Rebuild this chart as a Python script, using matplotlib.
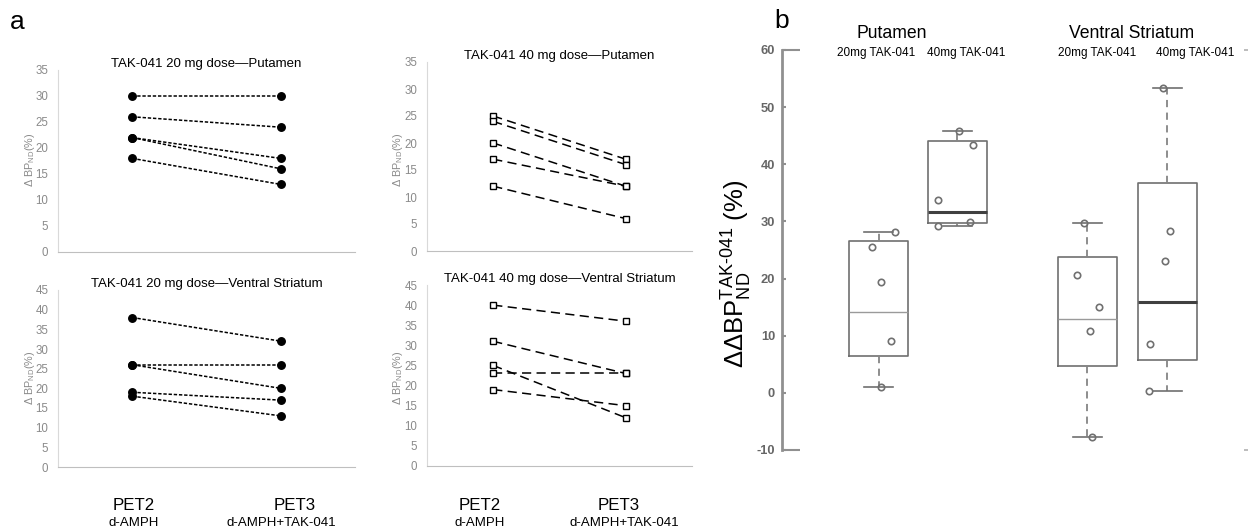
import numpy as np
import matplotlib
matplotlib.use('Agg')
import matplotlib.pyplot as plt

plt.rcParams['font.family'] = 'Liberation Sans'
plt.rcParams['mathtext.fontset'] = 'custom'
plt.rcParams['mathtext.rm'] = 'Liberation Sans'
plt.rcParams['mathtext.it'] = 'Liberation Sans:italic'
plt.rcParams['mathtext.bf'] = 'Liberation Sans:bold'
plt.rcParams['axes.unicode_minus'] = False

W = 1250
H = 528

# panel a: delta BPnd (%) at PET2 and PET3, one line per subject
pet2_put20 = [30, 26, 22, 22, 18]
pet3_put20 = [30, 24, 18, 16, 13]
pet2_put40 = [25, 24, 20, 17, 12]
pet3_put40 = [17, 16, 12, 12, 6]
pet2_vs20 = [38, 26, 26, 19, 18]
pet3_vs20 = [32, 26, 20, 17, 13]
pet2_vs40 = [40, 31, 25, 23, 19]
pet3_vs40 = [36, 23, 12, 23, 15]

# panel b: box stats (Putamen 20/40, Ventral Striatum 20/40)
box_whislo = [1.0, 29.2, -7.7, 0.3]
box_q1 = [6.4, 29.7, 4.7, 5.8]
box_med = [14.1, 31.7, 13.0, 15.9]
box_q3 = [26.5, 44.1, 23.7, 36.7]
box_whishi = [28.2, 45.9, 29.7, 53.3]

pts_put20 = [28.2, 25.5, 19.4, 9.0, 1.0]
pts_put40 = [45.9, 43.3, 33.8, 29.9, 29.2]
pts_vs20 = [29.7, 20.7, 15.0, 10.9, -7.7]
pts_vs40 = [53.3, 28.4, 23.1, 8.6, 0.3]
# horizontal jitter of each point (px)
jit_put20 = [16.5, -7, 2, 12, 2]
jit_put40 = [1.5, 16, -19, 13, -19]
jit_vs20 = [-3.5, -10, 12, 3, 5]
jit_vs40 = [-4, 2.5, -2, -17, -18]


def px_axes(fig, x0, y0, x1, y1):
    return fig.add_axes([x0 / W, 1 - y1 / H, (x1 - x0) / W, (y1 - y0) / H])


def ftext(fig, x, y, s, **kw):
    return fig.text(x / W, 1 - y / H, s, ha='center', va='center', **kw)


def linePanel(ax, d2, d3, ymax, title, squares):
    for a, b in zip(d2, d3):
        if squares:
            ax.plot([0, 1], [a, b], color='black', lw=1.1, ls=(0, (6, 3.5)),
                    marker='s', ms=4.6, mfc='white', mec='black', mew=1.0)
        else:
            ax.plot([0, 1], [a, b], color='black', lw=1.1, ls=(0, (2.2, 1.2)),
                    marker='o', ms=5.4, mfc='black', mec='black')
    ax.set_xlim(-0.5, 1.5)
    ax.set_ylim(0, ymax)
    ax.set_yticks(range(0, ymax + 1, 5))
    ax.set_xticks([])
    ax.tick_params(axis='y', length=0, labelsize=8.3, labelcolor='#8a8a8a', pad=7)
    for s in ['top', 'right']:
        ax.spines[s].set_visible(False)
    ax.spines['left'].set_color('#d9d9d9')
    ax.spines['bottom'].set_color('#bfbfbf')
    ax.spines['left'].set_linewidth(0.8)
    ax.spines['bottom'].set_linewidth(0.8)
    ax.set_title(title, fontsize=9.5, pad=2, loc='center')


fig = plt.figure(figsize=(W / 100, H / 100), dpi=100)

ax1 = px_axes(fig, 58, 70, 355, 252)
linePanel(ax1, pet2_put20, pet3_put20, 35, 'TAK-041 20 mg dose\u2014Putamen', False)
ax2 = px_axes(fig, 427, 62, 692, 251)
linePanel(ax2, pet2_put40, pet3_put40, 35, 'TAK-041 40 mg dose\u2014Putamen', True)
ax3 = px_axes(fig, 58, 290, 355, 467)
linePanel(ax3, pet2_vs20, pet3_vs20, 45, 'TAK-041 20 mg dose\u2014Ventral Striatum', False)
ax4 = px_axes(fig, 427, 285, 692, 466)
linePanel(ax4, pet2_vs40, pet3_vs40, 45, 'TAK-041 40 mg dose\u2014Ventral Striatum', True)

ylab_a = r'$\Delta\ \mathrm{BP}_{\mathrm{ND}}$(%)'
for x, y in [(30, 160), (398, 160), (30, 378), (398, 378)]:
    ftext(fig, x, y, ylab_a, rotation=90, fontsize=7.8, color='#8a8a8a')

# PET labels under panel a
for x1, x2 in [(134, 281), (480, 624)]:
    ftext(fig, x1, 505, 'PET2', fontsize=12.2)
    ftext(fig, x1, 523, 'd-AMPH', fontsize=9.5)
    ftext(fig, x2 + (14 if x1 < 200 else -5), 505, 'PET3', fontsize=12.2)
    ftext(fig, x2, 523, 'd-AMPH+TAK-041', fontsize=9.5)

ftext(fig, 17, 22, 'a', fontsize=19)
ftext(fig, 782, 21, 'b', fontsize=19)

# panel b boxplots
axb = px_axes(fig, 782, 50, 1248, 450)
positions = [96.5, 175, 305, 385]
stats = []
for i in range(4):
    stats.append(dict(whislo=box_whislo[i], q1=box_q1[i], med=box_med[i],
                      q3=box_q3[i], whishi=box_whishi[i]))
bp = axb.bxp(stats, positions=positions, widths=59, showfliers=False,
             capwidths=29,
             boxprops=dict(color='#707070', lw=1.2),
             whiskerprops=dict(color='#858585', lw=1.3, ls=(0, (4, 3))),
             capprops=dict(color='#707070', lw=1.2),
             medianprops=dict(color='#9a9a9a', lw=1.0))
for i in [1, 3]:
    bp['medians'][i].set_color('#404040')
    bp['medians'][i].set_linewidth(2.2)

for pos, vals, jit in zip(positions, [pts_put20, pts_put40, pts_vs20, pts_vs40],
                          [jit_put20, jit_put40, jit_vs20, jit_vs40]):
    axb.plot(np.array(jit) + pos, vals, 'o', mfc='none', mec='#707070', ms=4.6, mew=1.2)

axb.set_xlim(0, 466)
axb.set_ylim(-10, 60)
axb.set_xticks([])
axb.yaxis.remove_overlapping_locs = False
axb.set_yticks(range(-10, 61, 10))
axb.set_yticks([-10, 60], minor=True)
axb.tick_params(axis='y', which='major', direction='in', length=3, width=1.5,
                color='#909090', labelsize=9.3, labelcolor='#666666', pad=5)
axb.tick_params(axis='y', which='minor', direction='in', length=13, width=1.5,
                color='#909090')
for l in axb.get_yticklabels():
    l.set_fontweight('bold')
for s in ['top', 'right', 'bottom']:
    axb.spines[s].set_visible(False)
axb.spines['left'].set_color('#909090')
axb.spines['left'].set_linewidth(2)

twin = axb.twinx()
twin.set_ylim(-10, 60)
twin.set_yticks([-10, 60])
twin.tick_params(axis='y', direction='in', length=3, width=1.2, color='#b0b0b0',
                 labelright=False)
for s in twin.spines.values():
    s.set_visible(False)

ylab_b = '$\\Delta\\Delta\\mathrm{BP}_{\\mathrm{ND}}^{\\mathrm{TAK\u2010041}}$ (%)'
ftext(fig, 737, 274, ylab_b, rotation=90, fontsize=18.5)

ftext(fig, 892, 34, 'Putamen', fontsize=12.7)
ftext(fig, 1132, 34, 'Ventral Striatum', fontsize=12.7)
ftext(fig, 876, 53, '20mg TAK-041', fontsize=8.5)
ftext(fig, 966, 53, '40mg TAK-041', fontsize=8.5)
ftext(fig, 1097, 53, '20mg TAK-041', fontsize=8.5)
ftext(fig, 1195, 53, '40mg TAK-041', fontsize=8.5)

fig.savefig('out.png', dpi=100)
